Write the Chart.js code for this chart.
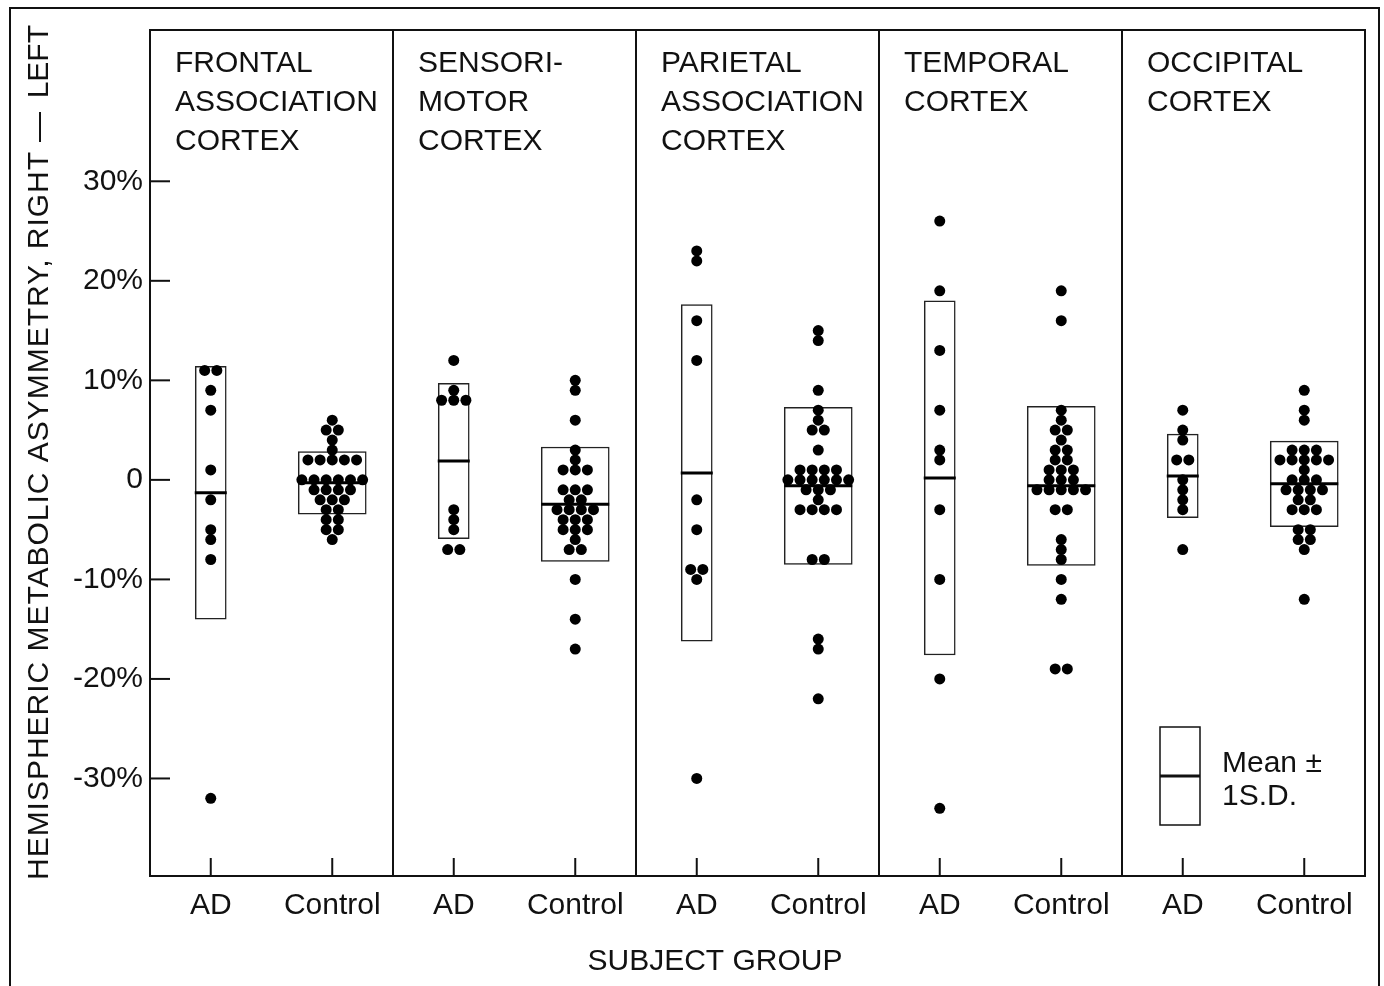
<!DOCTYPE html>
<html><head><meta charset="utf-8">
<script src="https://cdn.jsdelivr.net/npm/chart.js@4.4.1/dist/chart.umd.min.js"></script>
<style>html,body{margin:0;padding:0;background:#fff}#wrap{width:1384px;height:986px;position:relative}</style>
</head><body><div id="wrap"><canvas id="c" width="1384" height="986"></canvas></div>
<script>
// ---------- data ----------
const regions = [
  ['FRONTAL', 'ASSOCIATION', 'CORTEX'],
  ['SENSORI-', 'MOTOR', 'CORTEX'],
  ['PARIETAL', 'ASSOCIATION', 'CORTEX'],
  ['TEMPORAL', 'CORTEX'],
  ['OCCIPITAL', 'CORTEX']
];
const groups = ['AD', 'Control'];
const yTickValues = [-30, -20, -10, 0, 10, 20, 30];
const yTickLabels = ['-30%', '-20%', '-10%', '0', '10%', '20%', '30%'];
const yAxisTitleParts = ['HEMISPHERIC METABOLIC ASYMMETRY, RIGHT', '\u2014', 'LEFT'];
const xAxisTitle = 'SUBJECT GROUP';
const legendLines = ['Mean \u00B1', '1S.D.'];

// individual subjects (% asymmetry)
const frontalAD = [11, 11, 9, 7, 1, -2, -5, -6, -8, -32];
const frontalControl = [6, 5, 5, 4, 3, 2, 2, 2, 2, 2, 0, 0, 0, 0, 0, 0, -1, -1, -1, -1, -2, -2, -2, -3, -3, -4, -4, -5, -5, -6];
const sensoriAD = [12, 9, 8, 8, 8, -3, -4, -5, -7, -7];
const sensoriControl = [10, 9, 6, 3, 2, 1, 1, 1, -1, -1, -1, -2, -2, -3, -3, -3, -3, -4, -4, -4, -5, -5, -5, -6, -7, -7, -10, -14, -17];
const parietalAD = [23, 22, 16, 12, -2, -5, -9, -9, -10, -30];
const parietalControl = [15, 14, 9, 7, 6, 5, 5, 3, 1, 1, 1, 1, 0, 0, 0, 0, 0, 0, -1, -1, -1, -2, -3, -3, -3, -3, -8, -8, -16, -17, -22];
const temporalAD = [26, 19, 13, 7, 3, 2, -3, -10, -20, -33];
const temporalControl = [19, 16, 7, 6, 5, 5, 4, 3, 3, 2, 2, 1, 1, 1, 0, 0, 0, -1, -1, -1, -1, -1, -3, -3, -6, -7, -8, -10, -12, -19, -19];
const occipitalAD = [7, 5, 4, 2, 2, 0, -1, -2, -3, -7];
const occipitalControl = [9, 7, 6, 3, 3, 3, 2, 2, 2, 2, 2, 1, 0, 0, 0, -1, -1, -1, -1, -2, -2, -3, -3, -3, -5, -5, -6, -6, -7, -12];

// mean and SD boxes per region
const adMeans = [-1.3, 1.9, 0.7, 0.2, 0.4];
const adSDs = [12.7, 7.8, 16.9, 17.8, 4.2];
const controlMeans = [-0.3, -2.45, -0.6, -0.6, -0.4];
const controlSDs = [3.15, 5.75, 7.9, 8.0, 4.3];

// ---------- build ----------
const adValues = [frontalAD, sensoriAD, parietalAD, temporalAD, occipitalAD];
const controlValues = [frontalControl, sensoriControl, parietalControl, temporalControl, occipitalControl];
const X_STEP = 0.1; // horizontal spacing of equal-valued dots (x units)
const FONT = '"Liberation Sans", Arial, Helvetica, sans-serif';
const INK = '#111';

function swarm(values, cx) {
  const counts = {}, seen = {};
  values.forEach(v => counts[v] = (counts[v] || 0) + 1);
  return values.map(v => {
    seen[v] = seen[v] === undefined ? 0 : seen[v] + 1;
    return { x: cx + (seen[v] - (counts[v] - 1) / 2) * X_STEP, y: v };
  });
}
const groupX = (k, g) => 2 * k + 0.5 + g;
const dots = [];
regions.forEach((r, k) => {
  dots.push(...swarm(adValues[k], groupX(k, 0)));
  dots.push(...swarm(controlValues[k], groupX(k, 1)));
});
const adBoxes = adMeans.map((m, k) => ({ x: groupX(k, 0), y: [m - adSDs[k], m + adSDs[k]] }));
const ctBoxes = controlMeans.map((m, k) => ({ x: groupX(k, 1), y: [m - controlSDs[k], m + controlSDs[k]] }));
const adMeanPts = adMeans.map((m, k) => ({ x: groupX(k, 0), y: m }));
const ctMeanPts = controlMeans.map((m, k) => ({ x: groupX(k, 1), y: m }));
const xTickValues = [];
regions.forEach((r, k) => groups.forEach((g, j) => xTickValues.push(groupX(k, j))));

function line(ctx, x1, y1, x2, y2) { ctx.beginPath(); ctx.moveTo(x1, y1); ctx.lineTo(x2, y2); ctx.stroke(); }
function zeroPad(s) { s.paddingTop = 0; s.paddingBottom = 0; s.paddingLeft = 0; s.paddingRight = 0; }

const deco = {
  id: 'deco',
  beforeDraw(chart) {
    const ctx = chart.ctx;
    ctx.save();
    ctx.fillStyle = '#fff'; ctx.fillRect(0, 0, chart.width, chart.height);
    ctx.strokeStyle = INK; ctx.lineWidth = 2;
    ctx.strokeRect(10, 8, chart.width - 15, chart.height + 20);
    ctx.restore();
  },
  afterDatasetsDraw(chart) {
    const { ctx, chartArea: a, scales: { x, y } } = chart;
    ctx.save();
    ctx.strokeStyle = INK; ctx.lineWidth = 2;
    ctx.strokeRect(a.left, a.top, a.right - a.left, a.bottom - a.top);
    for (let k = 1; k < regions.length; k++) {
      const px = x.getPixelForValue(2 * k);
      line(ctx, px, a.top, px, a.bottom);
    }
    yTickValues.forEach(v => { const py = y.getPixelForValue(v); line(ctx, a.left, py, a.left + 20, py); });
    xTickValues.forEach(v => { const px = x.getPixelForValue(v); line(ctx, px, a.bottom, px, a.bottom - 18); });
    ctx.fillStyle = INK;
    ctx.font = '30px ' + FONT;
    ctx.textAlign = 'left'; ctx.textBaseline = 'alphabetic';
    regions.forEach((lines, k) => {
      const px = x.getPixelForValue(2 * k) + 25;
      lines.forEach((t, j) => ctx.fillText(t, px, a.top + 42 + j * 39));
    });
    // x axis title
    ctx.textAlign = 'center';
    ctx.fillText(xAxisTitle, 715, 970);
    // y axis title (rotated; runs upward from the bottom)
    ctx.save();
    ctx.translate(40, 0);
    ctx.rotate(-Math.PI / 2);
    ctx.textBaseline = 'middle';
    const main = yAxisTitleParts[0];
    const w0 = ctx.measureText(main).width;
    const target = 880 - 152;
    ctx.letterSpacing = ((target - w0) / (main.length - 1)).toFixed(2) + 'px';
    ctx.textAlign = 'left';
    ctx.fillText(main, -880, 0);
    ctx.letterSpacing = '0px';
    ctx.textAlign = 'center';
    ctx.fillText(yAxisTitleParts[1], -127, 0);
    ctx.textAlign = 'right';
    ctx.fillText(yAxisTitleParts[2], -25, 0);
    ctx.restore();
    // legend
    const lx = a.right - 205, ly = a.bottom - 149;
    ctx.lineWidth = 1.5;
    ctx.strokeRect(lx, ly, 40, 98);
    ctx.lineWidth = 3;
    line(ctx, lx, ly + 49, lx + 40, ly + 49);
    ctx.textAlign = 'left'; ctx.textBaseline = 'alphabetic';
    ctx.fillText(legendLines[0], lx + 62, ly + 45);
    ctx.fillText(legendLines[1], lx + 62, ly + 78);
    ctx.restore();
  }
};

new Chart(document.getElementById('c'), {
  type: 'scatter',
  data: {
    datasets: [
      { type: 'scatter', data: dots, pointRadius: 5.5, pointBackgroundColor: '#000', pointBorderWidth: 0, order: 0 },
      { type: 'scatter', data: adMeanPts, pointStyle: 'line', pointRadius: 16, pointBorderWidth: 3, pointBorderColor: '#000', order: 1 },
      { type: 'scatter', data: ctMeanPts, pointStyle: 'line', pointRadius: 34, pointBorderWidth: 3, pointBorderColor: '#000', order: 1 },
      { type: 'bar', data: adBoxes, barThickness: 31, grouped: false, backgroundColor: '#fff', borderColor: '#222', borderWidth: 1.5, borderSkipped: false, order: 2 },
      { type: 'bar', data: ctBoxes, barThickness: 68, grouped: false, backgroundColor: '#fff', borderColor: '#222', borderWidth: 1.5, borderSkipped: false, order: 2 }
    ]
  },
  options: {
    responsive: false,
    animation: false,
    events: [],
    devicePixelRatio: 1,
    layout: { autoPadding: false, padding: { top: 30, left: 0, right: 19, bottom: 0 } },
    plugins: { legend: { display: false }, tooltip: { enabled: false } },
    scales: {
      x: {
        type: 'linear', min: 0, max: 10, offset: false,
        grid: { display: false, drawTicks: false, offset: false },
        border: { display: false },
        afterBuildTicks: s => { s.ticks = xTickValues.map(v => ({ value: v })); },
        afterFit: s => { s.height = 110; zeroPad(s); },
        ticks: {
          padding: 12, color: INK, font: { family: FONT, size: 30 }, autoSkip: false, maxRotation: 0,
          callback: (v, i) => groups[i % 2]
        }
      },
      y: {
        type: 'linear', min: -39.8, max: 45.2, offset: false,
        grid: { display: false, drawTicks: false },
        border: { display: false },
        afterBuildTicks: s => { s.ticks = yTickValues.map(v => ({ value: v })); },
        afterFit: s => { s.width = 150; zeroPad(s); },
        ticks: {
          padding: 7, color: INK, font: { family: FONT, size: 30 }, autoSkip: false,
          callback: (v, i) => yTickLabels[i]
        }
      }
    }
  },
  plugins: [deco]
});
</script></body></html>
